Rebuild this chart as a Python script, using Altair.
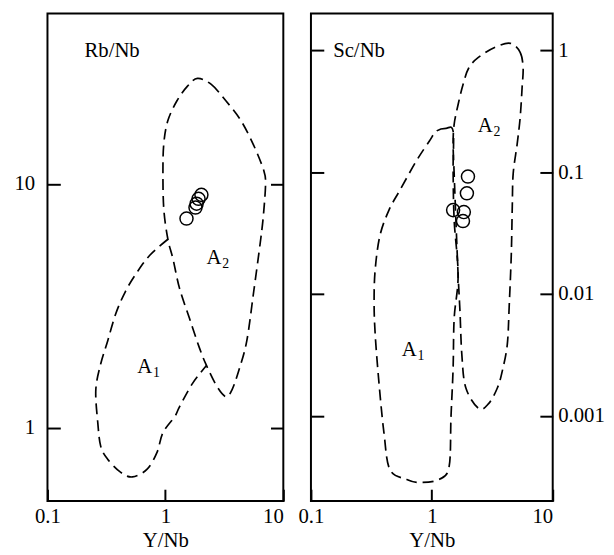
import altair as alt
import pandas as pd

# ---------------- Left panel: Rb/Nb vs Y/Nb ----------------
rb_a2_x = [1.87, 2.45, 3.27, 4.37, 5.61, 6.81, 7.07, 6.81, 6.43, 5.61, 4.90, 4.20, 3.67, 3.27,
           2.75, 2.23, 1.94, 1.60, 1.32, 1.16, 1.05, 0.97, 0.953, 0.97, 1.05, 1.25, 1.54]
rb_a2_y = [27.1, 25.6, 21.9, 18.2, 14.4, 11.4, 10.1, 7.63, 5.93, 3.62, 2.27, 1.72, 1.43, 1.34,
           1.47, 1.80, 2.13, 2.81, 3.72, 4.92, 5.93, 7.85, 11.1, 14.7, 18.2, 21.9, 25.2]
rb_a1_x = [1.05, 0.741, 0.578, 0.458, 0.378, 0.324, 0.283, 0.257, 0.267, 0.283, 0.324, 0.416,
           0.525, 0.700, 0.849, 0.953, 1.20, 1.32, 1.70, 2.23]
rb_a1_y = [5.93, 5.11, 4.36, 3.62, 2.92, 2.27, 1.83, 1.43, 1.05, 0.838, 0.742, 0.657,
           0.628, 0.676, 0.792, 0.954, 1.11, 1.22, 1.52, 1.80]
rb_sample_x = [2.02, 1.91, 1.84, 1.80, 1.51]
rb_sample_y = [9.02, 8.69, 8.30, 8.00, 7.21]
rb_label_x = [2.23, 0.578]
rb_label_y = [4.70, 1.67]
rb_label_sub = ["2", "1"]

# ---------------- Right panel: Sc/Nb vs Y/Nb ----------------
sc_a2_x = [4.46, 5.38, 5.69, 5.58, 5.38, 5.08, 4.71, 4.63, 4.54, 4.37, 4.21, 3.83, 3.49, 2.95,
           2.44, 1.91, 1.77, 1.71, 1.65, 1.585, 1.53, 1.50, 1.53, 1.65, 1.81, 2.02, 2.44, 3.36]
sc_a2_y = [1.14, 0.963, 0.715, 0.492, 0.281, 0.170, 0.0972, 0.0526, 0.0207, 0.00815, 0.00386,
           0.00234, 0.00170, 0.00126, 0.00115, 0.00170, 0.00321, 0.00715, 0.01426, 0.0383,
           0.0972, 0.170, 0.247, 0.359, 0.521, 0.715, 0.878, 1.06]
sc_a1_x = [1.09, 1.31, 1.50, 1.50, 1.53, 1.65, 1.53, 1.50, 1.44, 1.39, 1.15, 0.791, 0.620,
           0.450, 0.402, 0.366, 0.340, 0.333, 0.340, 0.372, 0.442, 0.543, 0.746, 0.955]
sc_a1_y = [0.217, 0.229, 0.217, 0.103, 0.0405, 0.01426, 0.00628, 0.00247, 0.000972, 0.000383,
           0.000301, 0.000284, 0.000301, 0.000362, 0.000722, 0.00183, 0.00466, 0.00861,
           0.0159, 0.0301, 0.0488, 0.0708, 0.124, 0.180]
sc_sample_x = [1.99, 1.95, 1.50, 1.84, 1.81]
sc_sample_y = [0.092, 0.067, 0.0488, 0.047, 0.0397]
sc_label_x = [2.40, 0.564]
sc_label_y = [0.213, 0.00309]
sc_label_sub = ["2", "1"]

FONT = "Liberation Serif"
DASH = [11, 6]


def curve_df(xs, ys, name):
    return pd.DataFrame({"x": xs, "y": ys, "curve": name, "order": list(range(len(xs)))})


def xenc():
    return alt.X(
        "x:Q",
        scale=alt.Scale(type="log", domain=[0.1, 10]),
        axis=alt.Axis(values=[0.1, 1, 10], format="~g", title="Y/Nb", tickSize=12, offset=-12,
                      domain=False, grid=False, labelFlush=False,
                      labelAlign={"expr": "datum.value >= 10 ? 'right' : 'center'"},
                      labelPadding=5, titlePadding=3),
    )


def panel(closed_df, open_df, px, py, lx, ly, lsub, ydomain, yticks, ytitle, title_x,
          label_left, width, pad):
    yscale = alt.Scale(type="log", domain=ydomain)
    left_axis = alt.Axis(orient="left", values=yticks, format="~g", tickSize=13, offset=-13,
                         domain=False, grid=False, labels=label_left, labelPadding=pad,
                         title=ytitle, titleAngle=0, titleAlign="left", titleBaseline="middle",
                         titleX=title_x, titleY=37)
    right_axis = alt.Axis(orient="right", values=yticks, format="~g", tickSize=13, offset=-13,
                          domain=False, grid=False, labels=not label_left, labelPadding=pad,
                          title=None)
    closed = alt.Chart(closed_df).mark_line(
        interpolate="cardinal-closed", strokeDash=DASH, color="black", strokeWidth=1.7
    ).encode(x=xenc(), y=alt.Y("y:Q", scale=yscale, axis=left_axis), detail="curve:N",
             order="order:Q")
    layers = [closed]
    if open_df is not None:
        layers.append(alt.Chart(open_df).mark_line(
            interpolate="cardinal", strokeDash=DASH, color="black", strokeWidth=1.7
        ).encode(x=xenc(), y=alt.Y("y:Q", scale=yscale, axis=None), detail="curve:N",
                 order="order:Q"))
    pts = alt.Chart(pd.DataFrame({"x": px, "y": py})).mark_point(
        shape="circle", filled=False, size=175, color="black", strokeWidth=1.5, opacity=1
    ).encode(x=xenc(), y=alt.Y("y:Q", scale=yscale, axis=right_axis))
    lab_df = pd.DataFrame({"x": lx, "y": ly, "main": ["A"] * len(lx), "sub": lsub})
    lab_a = alt.Chart(lab_df).mark_text(
        font=FONT, fontSize=21, align="left", baseline="alphabetic", color="black"
    ).encode(x=xenc(), y=alt.Y("y:Q", scale=yscale, axis=None), text="main:N")
    lab_s = alt.Chart(lab_df).mark_text(
        font=FONT, fontSize=14, align="left", baseline="alphabetic", color="black", dx=16, dy=4
    ).encode(x=xenc(), y=alt.Y("y:Q", scale=yscale, axis=None), text="sub:N")
    layers += [pts, lab_a, lab_s]
    return alt.layer(*layers).resolve_axis(y="independent").properties(width=width, height=494)


left_closed = curve_df(rb_a2_x, rb_a2_y, "A2")
left_open = curve_df(rb_a1_x, rb_a1_y, "A1")
right_closed = pd.concat([curve_df(sc_a2_x, sc_a2_y, "A2"), curve_df(sc_a1_x, sc_a1_y, "A1")])

left = panel(left_closed, left_open, rb_sample_x, rb_sample_y, rb_label_x, rb_label_y,
             rb_label_sub, [0.5, 50], [1, 10], "Rb/Nb", 24, True, 239, 13)
right = panel(right_closed, None, sc_sample_x, sc_sample_y, sc_label_x, sc_label_y,
              sc_label_sub, [0.0002, 2], [0.001, 0.01, 0.1, 1], "Sc/Nb", 9, False, 245, 5)

chart = alt.hconcat(left, right, spacing=28, bounds="flush").properties(
    padding={"left": 5, "top": 1, "right": 0, "bottom": 0}
).configure_axis(
    labelFont=FONT, titleFont=FONT, labelFontSize=21, titleFontSize=21, labelColor="black",
    titleColor="black", tickColor="black", tickWidth=2, titleFontWeight="normal"
).configure_view(stroke="black", strokeWidth=2)

chart.save("out.html", embed_options={"renderer": "svg", "actions": False})
